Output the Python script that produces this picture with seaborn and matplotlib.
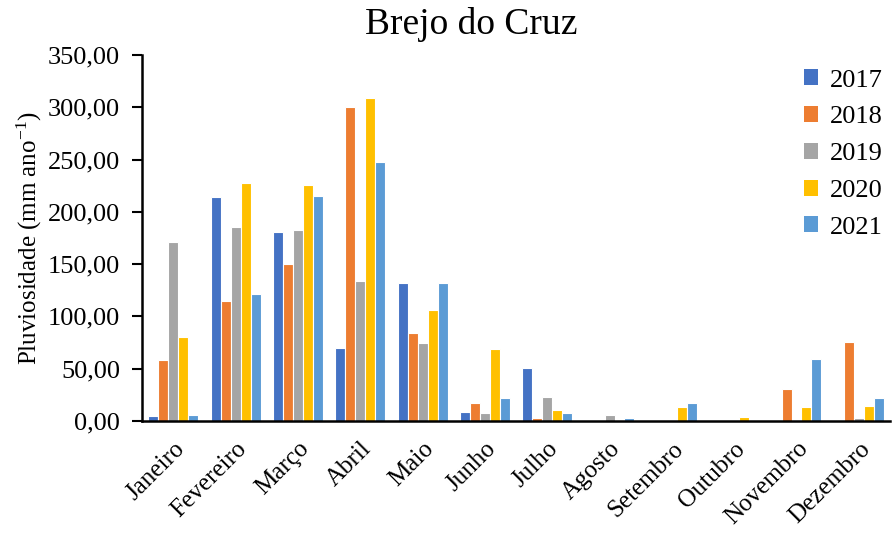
import matplotlib
matplotlib.use("Agg")
import matplotlib.pyplot as plt
import matplotlib.ticker as mticker
from matplotlib.patches import Patch
import seaborn as sns
import pandas as pd

months = ["Janeiro", "Fevereiro", "Março", "Abril", "Maio", "Junho", "Julho",
          "Agosto", "Setembro", "Outubro", "Novembro", "Dezembro"]
years = ["2017", "2018", "2019", "2020", "2021"]
v2017 = [5.0, 214.5, 181.0, 69.7, 132.0, 8.6, 50.5, 0.0, 0.0, 0.0, 0.0, 0.0]
v2018 = [58.0, 114.4, 150.5, 299.8, 84.0, 17.0, 2.5, 0.0, 0.0, 0.0, 30.4, 75.7]
v2019 = [171.0, 185.3, 183.0, 134.0, 74.5, 7.3, 22.7, 6.0, 0.0, 0.0, 0.0, 2.5]
v2020 = [80.5, 227.5, 226.0, 309.0, 105.8, 68.7, 10.9, 0.0, 13.0, 3.5, 13.0, 14.4]
v2021 = [6.0, 121.5, 215.5, 248.0, 132.0, 21.7, 7.3, 2.5, 17.0, 0.0, 59.0, 21.7]
colors = ["#4472C4", "#ED7D31", "#A5A5A5", "#FFC000", "#5B9BD5"]

series = dict(zip(years, [v2017, v2018, v2019, v2020, v2021]))
rows = []
for y in years:
    for m, v in zip(months, series[y]):
        rows.append({"Mês": m, "Ano": y, "Valor": v})
df = pd.DataFrame(rows)

sns.set_theme(style="white")
plt.rcParams["font.family"] = ["Liberation Serif", "DejaVu Serif"]
plt.rcParams["mathtext.fontset"] = "custom"
plt.rcParams["mathtext.rm"] = "Liberation Serif"
plt.rcParams["mathtext.it"] = "Liberation Serif:italic"
for k in ["text.color", "axes.labelcolor", "xtick.color", "ytick.color"]:
    plt.rcParams[k] = "black"

fig = plt.figure(figsize=(8.94, 5.34), dpi=100)
ax = fig.add_axes([0.159, 0.2116, 0.8365, 0.6854])

sns.barplot(data=df, x="Mês", y="Valor", hue="Ano", order=months, hue_order=years,
            palette=colors, width=0.8, edgecolor="white", linewidth=0.8,
            saturation=1, legend=False, ax=ax)

ax.set_xlim(-0.5, len(months) - 0.5)
ax.set_ylim(0, 350)
ax.yaxis.set_major_locator(mticker.MultipleLocator(50))
ax.yaxis.set_major_formatter(mticker.FuncFormatter(lambda v, p: f"{v:.2f}".replace(".", ",")))

ax.set_xticks(range(len(months)))
ax.set_xticklabels(months, rotation=45, ha="right", rotation_mode="anchor", fontsize=18)
ax.tick_params(axis="x", which="major", length=0, pad=12)
ax.set_xticks([i - 0.5 for i in range(len(months) + 1)], minor=True)
ax.tick_params(axis="x", which="minor", length=7, width=1.5, color="black", direction="out")
ax.tick_params(axis="y", which="major", length=7, width=1.5, color="black",
               direction="out", labelsize=19, pad=9, left=True)

for s in ["top", "right"]:
    ax.spines[s].set_visible(False)
for s in ["left", "bottom"]:
    ax.spines[s].set_color("black")
    ax.spines[s].set_linewidth(1.8)

ax.set_xlabel("")
ax.set_ylabel("Pluviosidade (mm ano$^{-1}$)", fontsize=18, labelpad=3)
fig.text(471 / 894, 1 - 24 / 534, "Brejo do Cruz", fontsize=27, ha="center", va="center")

handles = [Patch(facecolor=c, edgecolor="none", label=y) for c, y in zip(colors, years)]
ax.legend(handles=handles, loc="upper right", bbox_to_anchor=(1.005, 0.99), frameon=False,
          fontsize=19, handlelength=0.55, handleheight=0.55, handletextpad=0.45,
          labelspacing=0.55, borderaxespad=0.0)

fig.savefig("out.png", dpi=100)
